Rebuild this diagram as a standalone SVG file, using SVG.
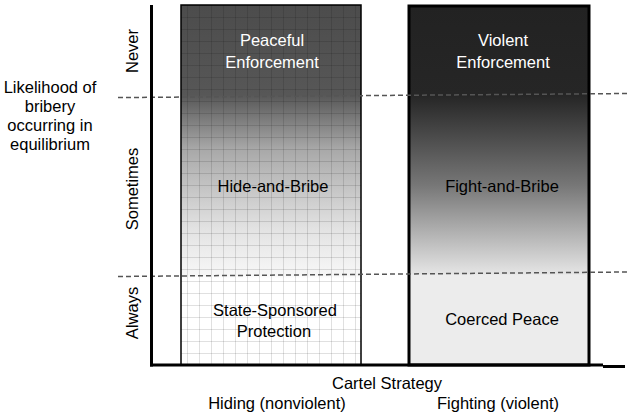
<svg xmlns="http://www.w3.org/2000/svg" width="628" height="417" viewBox="0 0 628 417">
<style>
text{font-family:"Liberation Sans",Arial,sans-serif;font-size:16.5px;fill:#000;text-anchor:middle}
.w{fill:#fff}
.dash{stroke:#555;stroke-width:1.5;stroke-dasharray:5 3;fill:none}
.axis{stroke:#000;stroke-width:3;fill:none}
</style>
<defs>
<linearGradient id="gL" x1="0" y1="5" x2="0" y2="365" gradientUnits="userSpaceOnUse">
<stop offset="0" stop-color="#4c4c4c"/>
<stop offset="0.25" stop-color="#575757"/>
<stop offset="0.40" stop-color="#a8a8a8"/>
<stop offset="0.62" stop-color="#e2e2e2"/>
<stop offset="0.75" stop-color="#f7f7f7"/>
<stop offset="0.76" stop-color="#ffffff"/>
<stop offset="1" stop-color="#ffffff"/>
</linearGradient>
<linearGradient id="gR" x1="0" y1="6" x2="0" y2="365" gradientUnits="userSpaceOnUse">
<stop offset="0" stop-color="#222"/>
<stop offset="0.25" stop-color="#262626"/>
<stop offset="0.5" stop-color="#777"/>
<stop offset="0.745" stop-color="#e4e4e4"/>
<stop offset="0.75" stop-color="#ececec"/>
<stop offset="1" stop-color="#ececec"/>
</linearGradient>
<pattern id="grid" x="187" y="5" width="12" height="12" patternUnits="userSpaceOnUse">
<path d="M0.5 0V12M0 0.5H12" stroke="#000" stroke-opacity="0.12" stroke-width="1" fill="none"/>
</pattern>
</defs>

<g id="left-box">
<rect x="181" y="5" width="180" height="360" fill="url(#gL)"/>
<rect x="181" y="5" width="180" height="360" fill="url(#grid)"/>
<rect x="181" y="5" width="180" height="360" fill="none" stroke="#000" stroke-width="1.5"/>
</g>
<g id="right-box">
<rect x="409" y="6" width="180" height="359" fill="url(#gR)" stroke="#000" stroke-width="3"/>
</g>

<g id="connectors">
<line class="dash" x1="118" y1="97.6" x2="628" y2="93.5"/>
<line class="dash" x1="118" y1="276.5" x2="628" y2="272"/>
<line class="axis" x1="151.5" y1="5" x2="151.5" y2="366.5"/>
<line class="axis" x1="150" y1="365" x2="603" y2="365"/>
<line class="axis" x1="603" y1="366.5" x2="625" y2="366.5"/>
</g>

<g id="y-label">
<text x="50" y="93">Likelihood of</text>
<text x="50" y="112">bribery</text>
<text x="50" y="131">occurring in</text>
<text x="50" y="150">equilibrium</text>
</g>
<g id="y-ticks">
<text transform="translate(138,51) rotate(-90)">Never</text>
<text transform="translate(138,189) rotate(-90)">Sometimes</text>
<text transform="translate(138,313) rotate(-90)">Always</text>
</g>

<g id="peaceful-enforcement"><text class="w" x="272" y="46">Peaceful</text><text class="w" x="272" y="68">Enforcement</text></g>
<g id="violent-enforcement"><text class="w" x="503" y="46">Violent</text><text class="w" x="503" y="68">Enforcement</text></g>
<g id="hide-and-bribe"><text x="273" y="192">Hide-and-Bribe</text></g>
<g id="fight-and-bribe"><text x="502" y="192">Fight-and-Bribe</text></g>
<g id="state-sponsored"><text x="275" y="316">State-Sponsored</text><text x="274" y="337">Protection</text></g>
<g id="coerced-peace"><text x="502" y="325">Coerced Peace</text></g>

<g id="x-label">
<text x="387" y="389">Cartel Strategy</text>
<text x="277" y="409">Hiding (nonviolent)</text>
<text x="498" y="409">Fighting (violent)</text>
</g>
</svg>
